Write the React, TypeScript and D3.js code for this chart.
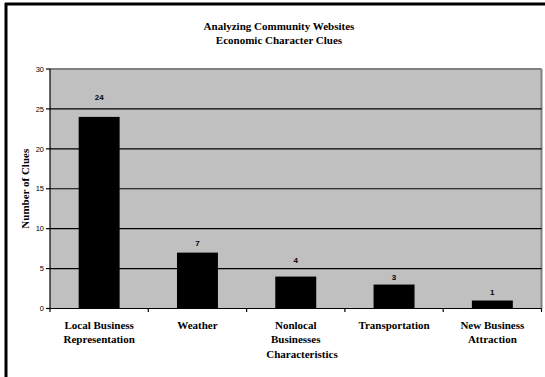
import React from "react";
import * as d3 from "d3";

const categories: string[][] = [
  ["Local Business", "Representation"],
  ["Weather"],
  ["Nonlocal", "Businesses"],
  ["Transportation"],
  ["New Business", "Attraction"],
];
const clueCounts: number[] = [24, 7, 4, 3, 1];
const yTicks: number[] = [0, 5, 10, 15, 20, 25, 30];
// vertical distance (px) from each bar top to its value label baseline
const labelLift: number[] = [16.5, 7, 14, 5, 5.5];

const titleLines = ["Analyzing Community Websites", "Economic Character Clues"];
const xTitle = "Characteristics";
const yTitle = "Number of Clues";

const W = 545;
const H = 377;
const plot = { left: 50, right: 541.5, top: 69, bottom: 308.5 };
const serif = "'Times New Roman', 'Liberation Serif', Times, serif";
const sans = "Arial, 'Liberation Sans', Helvetica, sans-serif";

export default function App() {
  const keys = categories.map((c) => c.join(" "));
  const x = d3.scaleBand<string>().domain(keys).range([plot.left, plot.right]).padding(0);
  const y = d3.scaleLinear().domain([0, 30]).range([plot.bottom, plot.top]);
  const step = x.bandwidth();
  const barW = step / 2.4; // 140% gap width
  const boundaries = keys.map((k) => x(k) as number).concat([plot.right]);

  return (
    <svg
      width={W}
      height={H}
      style={{ position: "absolute", left: 0, top: 0, background: "#fff" }}
    >
      {/* outer frame (left and top edges) */}
      <line x1={6} x2={6} y1={3} y2={H} stroke="#000" strokeWidth={3} />
      <line x1={5} x2={W} y1={4} y2={4} stroke="#000" strokeWidth={3} />

      {/* title */}
      {titleLines.map((t, i) => (
        <text
          key={t}
          x={279}
          y={29.5 + i * 14.5}
          textAnchor="middle"
          fontFamily={serif}
          fontWeight="bold"
          fontSize={11}
          fill="#000"
        >
          {t}
        </text>
      ))}

      {/* plot area */}
      <rect
        x={plot.left}
        y={plot.top}
        width={plot.right - plot.left}
        height={plot.bottom - plot.top}
        fill="#C0C0C0"
      />
      <line x1={plot.left} x2={plot.right} y1={plot.top} y2={plot.top} stroke="#808080" strokeWidth={2} />
      <line x1={plot.right} x2={plot.right} y1={plot.top} y2={plot.bottom} stroke="#808080" strokeWidth={2} />

      {/* gridlines */}
      {yTicks
        .filter((v) => v > 0 && v < 30)
        .map((v) => (
          <line
            key={`g${v}`}
            x1={plot.left}
            x2={plot.right}
            y1={y(v)}
            y2={y(v)}
            stroke="#000"
            strokeWidth={1.2}
          />
        ))}

      {/* bars */}
      {clueCounts.map((v, i) => {
        const cx = (x(keys[i]) as number) + step / 2;
        return (
          <rect
            key={keys[i]}
            x={cx - barW / 2}
            y={y(v)}
            width={barW}
            height={y(0) - y(v)}
            fill="#000"
          />
        );
      })}

      {/* value labels */}
      {clueCounts.map((v, i) => {
        const cx = (x(keys[i]) as number) + step / 2;
        return (
          <text
            key={`v${i}`}
            x={cx}
            y={y(v) - labelLift[i]}
            textAnchor="middle"
            fontFamily={sans}
            fontWeight="bold"
            fontSize={8}
            fill="#000"
          >
            {v}
          </text>
        );
      })}

      {/* y axis */}
      <line x1={plot.left} x2={plot.left} y1={plot.top} y2={plot.bottom} stroke="#000" strokeWidth={1.2} />
      {yTicks.map((v) => (
        <g key={`t${v}`}>
          <line x1={plot.left - 4} x2={plot.left} y1={y(v)} y2={y(v)} stroke="#000" strokeWidth={1.2} />
          <text
            x={plot.left - 6}
            y={y(v) + 2.7}
            textAnchor="end"
            fontFamily={sans}
            fontSize={7.5}
            fill="#000"
          >
            {v}
          </text>
        </g>
      ))}

      {/* x axis */}
      <line x1={plot.left} x2={plot.right} y1={plot.bottom} y2={plot.bottom} stroke="#000" strokeWidth={1.2} />
      {boundaries.map((bx, i) => (
        <line key={`xb${i}`} x1={bx} x2={bx} y1={plot.bottom} y2={plot.bottom + 3.5} stroke="#000" strokeWidth={1.2} />
      ))}
      {categories.map((lines, i) => {
        const cx = (x(keys[i]) as number) + step / 2;
        return (
          <text
            key={`c${i}`}
            textAnchor="middle"
            fontFamily={serif}
            fontWeight="bold"
            fontSize={11}
            fill="#000"
          >
            {lines.map((ln, j) => (
              <tspan key={ln} x={cx} y={329.3 + j * 13.7}>
                {ln}
              </tspan>
            ))}
          </text>
        );
      })}

      {/* axis titles */}
      <text
        x={302}
        y={358.3}
        textAnchor="middle"
        fontFamily={serif}
        fontWeight="bold"
        fontSize={11}
        fill="#000"
      >
        {xTitle}
      </text>
      <text
        transform={`translate(28.6, ${(plot.top + plot.bottom) / 2}) rotate(-90)`}
        textAnchor="middle"
        fontFamily={serif}
        fontWeight="bold"
        fontSize={11}
        fill="#000"
      >
        {yTitle}
      </text>
    </svg>
  );
}
